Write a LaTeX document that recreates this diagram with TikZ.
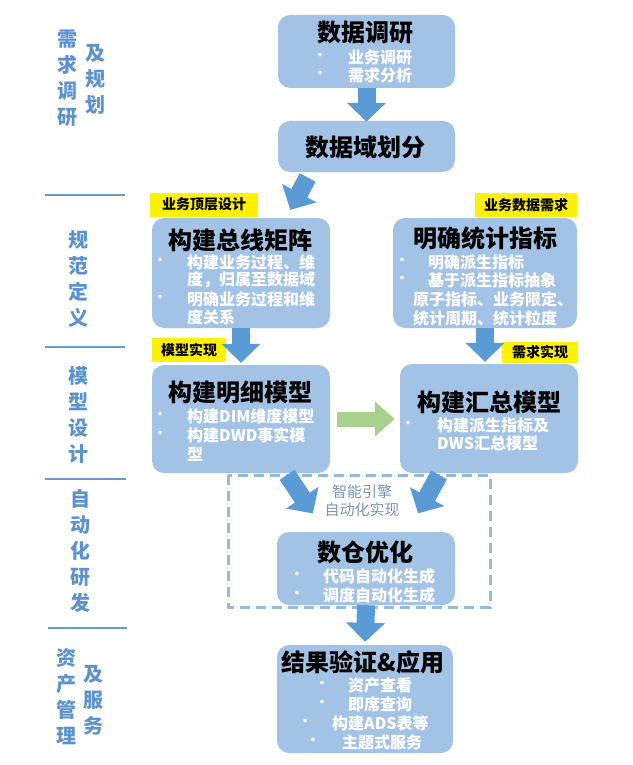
\documentclass[tikz,border=0pt]{standalone}
\usepackage{fontspec}
\setmainfont{Noto Sans CJK SC}
\newfontfamily\heavyfont{Noto Sans CJK SC Black}
\usetikzlibrary{arrows.meta}
\definecolor{boxblue}{HTML}{A3C3E6}
\definecolor{arrowblue}{HTML}{5B9BD5}
\definecolor{arrowgreen}{HTML}{A9D18E}
\definecolor{sideblue}{HTML}{5B92CF}
\definecolor{lineblue}{HTML}{6A9BD0}
\definecolor{dashblue}{HTML}{95BAE1}
\definecolor{enginetext}{HTML}{7A94B8}

\begin{document}
\begin{tikzpicture}[x=1pt,y=-1pt,
    box/.style={fill=boxblue,rounded corners=12pt,inner sep=0pt},
    ttl/.style={font=\fontsize{24}{26}\selectfont\heavyfont,inner sep=0pt},
    itm/.style={text=white,font=\fontsize{16}{18}\selectfont\bfseries,anchor=west,inner sep=0pt},
    dot/.style={text=white,font=\fontsize{17}{18}\selectfont,inner sep=0pt},
    tag/.style={fill=yellow,font=\fontsize{14}{16}\selectfont\bfseries,inner sep=0pt,minimum height=24pt},
    side/.style={text=sideblue,font=\fontsize{20}{26}\selectfont\bfseries,align=center,inner sep=0pt},
    sep/.style={draw=lineblue,line width=1.5pt},
    blk/.style={draw=arrowblue,line width=18pt,-{Triangle[width=38pt,length=19pt]}},
    grn/.style={draw=arrowgreen,line width=15pt,-{Triangle[width=34pt,length=20pt]}}]
    \useasboundingbox (0,0) rectangle (632,765);

    % left column
    \node[side] (s1a) at (67,78) {需\\求\\调\\研};
    \node[side] (s1b) at (95,79) {及\\规\\划};
    \node[side] (s2) at (78,279) {规\\范\\定\\义};
    \node[side] (s3) at (78,415) {模\\型\\设\\计};
    \node[side] (s4) at (80,551) {自\\动\\化\\研\\发};
    \node[side] (s5a) at (66,697) {资\\产\\管\\理};
    \node[side] (s5b) at (93,700) {及\\服\\务};
    \draw[sep] (45,195) -- (125,195);
    \draw[sep] (45,347) -- (125,347);
    \draw[sep] (45,479) -- (126,479);
    \draw[sep] (48,628) -- (127,628);

    % boxes
    \node[box,minimum width=177pt,minimum height=73pt] (research) at (366.5,51.5) {};
    \node[box,minimum width=177pt,minimum height=51pt] (domain) at (366.5,146.5) {};
    \node[box,minimum width=178pt,minimum height=110pt] (bus) at (241,273) {};
    \node[box,minimum width=184pt,minimum height=110pt] (metric) at (485,273) {};
    \node[box,minimum width=178pt,minimum height=108pt] (detail) at (241,419) {};
    \node[box,minimum width=178pt,minimum height=109pt] (summary) at (489,418.5) {};
    \node[box,minimum width=178pt,minimum height=73pt] (optim) at (366,568.5) {};
    \node[box,minimum width=176pt,minimum height=108pt] (result) at (365,699) {};

    % titles
    \node[ttl] (t1) at (365,32) {数据调研};
    \node[ttl] (t2) at (365,147) {数据域划分};
    \node[ttl] (t3) at (240,240) {构建总线矩阵};
    \node[ttl] (t4) at (485,238) {明确统计指标};
    \node[ttl] (t5) at (240,392) {构建明细模型};
    \node[ttl] (t6) at (489,402) {构建汇总模型};
    \node[ttl] (t7) at (365,552) {数仓优化};
    \node[ttl] (t8) at (363,662) {结果验证\&应用};

    % items
    \node[dot] (d11) at (320,57) {•};
    \node[itm] (i11) at (348,57) {业务调研};
    \node[dot] (d12) at (320,75) {•};
    \node[itm] (i12) at (348,75) {需求分析};

    \node[dot] (d31) at (160,262) {•};
    \node[itm] (i31) at (187,262) {构建业务过程、维};
    \node[itm] (i32) at (187,280) {度，归属至数据域};
    \node[dot] (d33) at (160,299) {•};
    \node[itm] (i33) at (187,299) {明确业务过程和维};
    \node[itm] (i34) at (187,317) {度关系};

    \node[dot] (d41) at (402,262) {•};
    \node[itm] (i41) at (428,262) {明确派生指标};
    \node[dot] (d42) at (402,280) {•};
    \node[itm] (i42) at (428,280) {基于派生指标抽象};
    \node[itm] (i43) at (413,299) {原子指标、业务限定、};
    \node[itm] (i44) at (413,318) {统计周期、统计粒度};

    \node[dot] (d51) at (160,416) {•};
    \node[itm] (i51) at (187,416) {构建DIM维度模型};
    \node[dot] (d52) at (160,435) {•};
    \node[itm] (i52) at (187,435) {构建DWD事实模};
    \node[itm] (i53) at (187,454) {型};

    \node[dot] (d61) at (408,425) {•};
    \node[itm] (i61) at (437,425) {构建派生指标及};
    \node[itm] (i62) at (437,443) {DWS汇总模型};

    \node[dot] (d71) at (297,576) {•};
    \node[itm] (i71) at (323,576) {代码自动化生成};
    \node[dot] (d72) at (297,595) {•};
    \node[itm] (i72) at (323,595) {调度自动化生成};

    \node[dot] (d81) at (322,685) {•};
    \node[itm] (i81) at (348,685) {资产查看};
    \node[dot] (d82) at (322,704) {•};
    \node[itm] (i82) at (348,704) {即席查询};
    \node[dot] (d83) at (305,723) {•};
    \node[itm] (i83) at (332,723) {构建ADS表等};
    \node[dot] (d84) at (313,742) {•};
    \node[itm] (i84) at (342,742) {主题式服务};

    % tags
    \node[tag,minimum width=108pt] (tagtop) at (204,204.5) {业务顶层设计};
    \node[tag,minimum width=102pt] (tagneed) at (526,205) {业务数据需求};
    \node[tag,minimum width=74pt] (tagmodel) at (189,350) {模型实现};
    \node[tag,minimum width=76pt,minimum height=21pt] (tagimpl) at (540,352.5) {需求实现};

    % automation frame
    \draw[dashblue,line width=3pt,dash pattern=on 10pt off 6pt] (228,475) rectangle (490,607);
    \node[text=enginetext,font=\fontsize{15}{18}\selectfont,align=center] (engine) at (362,501) {智能引擎\\自动化实现};

    % arrows
    \draw[blk,shorten >=-1pt] (research.south) -- (domain.north);
    \draw[blk,shorten <=6pt,shorten >=9pt] ([xshift=-56pt]domain.south) -- ([xshift=45pt]bus.north);
    \draw[blk,shorten >=2pt] (bus.south) -- (detail.north);
    \draw[blk,shorten >=2pt] (metric.south) -- (metric.south |- summary.north);
    \draw[grn,shorten <=7pt,shorten >=5pt] (detail.east) -- (detail.east -| summary.west);
    \draw[blk,shorten <=2pt,shorten >=22pt] ([xshift=45pt]detail.south) -- ([xshift=-41pt]optim.north);
    \draw[blk,shorten <=2pt,shorten >=21pt] ([xshift=-49pt]summary.south) -- ([xshift=42pt]optim.north);
    \draw[blk,shorten >=3pt] (optim.south) -- (result.north);
\end{tikzpicture}
\end{document}
